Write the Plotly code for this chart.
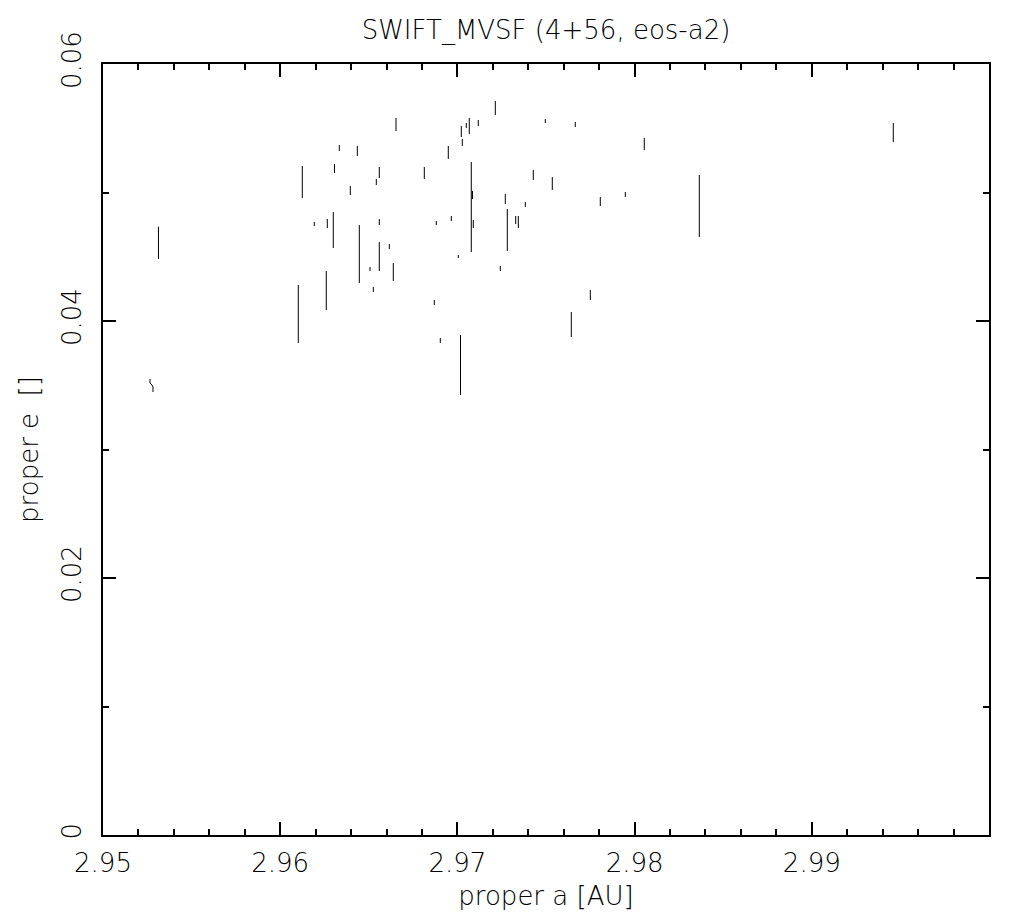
import plotly.graph_objects as go

# Proper semi-major axis (AU) of each object and the range of its proper eccentricity
a_vals = [2.95313, 2.961021, 2.961247, 2.961924, 2.962601, 2.962658, 2.962996, 2.963064,
          2.963335, 2.963956, 2.964351, 2.964464, 2.965068, 2.965254, 2.965423, 2.965592,
          2.965592, 2.965592, 2.966157, 2.966382, 2.966535, 2.968132, 2.968696, 2.968809,
          2.969035, 2.969486, 2.969656, 2.970051, 2.970175, 2.970220, 2.970276, 2.970502,
          2.970671, 2.970784, 2.970852, 2.970897, 2.971179, 2.972139, 2.972421, 2.972703,
          2.972816, 2.973290, 2.973437, 2.973832, 2.974283, 2.974960, 2.975355, 2.976428,
          2.976653, 2.977500, 2.978064, 2.979475, 2.980547, 2.983651, 2.994599]
e_top = [0.04734, 0.042802, 0.052062, 0.047704, 0.043891, 0.047938, 0.048483, 0.052218,
         0.053697, 0.050506, 0.053619, 0.047471, 0.044202, 0.042646, 0.051051, 0.051984,
         0.047938, 0.046148, 0.045992, 0.044514, 0.055798, 0.051984, 0.041634, 0.047782,
         0.038677, 0.053619, 0.048171, 0.045136, 0.038911, 0.055175, 0.054163, 0.055409,
         0.055798, 0.052374, 0.050117, 0.047860, 0.055642, 0.057121, 0.044280, 0.049883,
         0.048716, 0.048171, 0.048171, 0.049261, 0.051751, 0.055720, 0.051206, 0.040700,
         0.055486, 0.042412, 0.049650, 0.050039, 0.054241, 0.051362, 0.055409]
e_bot = [0.04483, 0.038288, 0.049572, 0.047393, 0.040856, 0.047237, 0.045681, 0.051517,
         0.053230, 0.049805, 0.052840, 0.042957, 0.043891, 0.042257, 0.050584, 0.051128,
         0.047471, 0.043891, 0.045603, 0.043113, 0.054786, 0.051051, 0.041245, 0.047471,
         0.038288, 0.052607, 0.047782, 0.044903, 0.034241, 0.054319, 0.053619, 0.055019,
         0.054553, 0.045370, 0.049494, 0.047237, 0.055175, 0.056031, 0.043891, 0.049105,
         0.045447, 0.047549, 0.047237, 0.048872, 0.050973, 0.055409, 0.050195, 0.038755,
         0.055097, 0.041634, 0.048949, 0.049650, 0.053307, 0.046537, 0.053930]

# One object drifting slightly in a (small curved track)
curve_a = [2.952652, 2.952652, 2.952765, 2.952822, 2.952822]
curve_e = [0.035486, 0.035175, 0.035019, 0.034864, 0.034475]

x_tick_vals = [2.95, 2.96, 2.97, 2.98, 2.99]
x_tick_text = ["2.95", "2.96", "2.97", "2.98", "2.99"]
y_tick_vals = [0, 0.02, 0.04, 0.06]
y_tick_text = ["0", "0.02", "0.04", "0.06"]

xs, ys = [], []
for a, t, b in zip(a_vals, e_top, e_bot):
    xs += [a, a, None]
    ys += [t, b, None]
xs += curve_a
ys += curve_e

FONT = dict(family="DejaVu Sans, Liberation Sans, sans-serif", size=26, color="black", weight=200)

fig = go.Figure()
fig.add_trace(go.Scatter(x=xs, y=ys, mode="lines", line=dict(color="black", width=1),
                         hoverinfo="skip", showlegend=False))

axis_common = dict(showline=True, linecolor="black", linewidth=2, mirror="allticks",
                   ticks="inside", ticklen=13, tickwidth=1.5, tickcolor="black",
                   showgrid=False, zeroline=False, tickfont=FONT)

W, H = 1013, 911  # page body adds an 8px offset
fig.update_layout(
    width=W, height=H,
    margin=dict(l=95, r=32, t=56, b=84, autoexpand=False),
    paper_bgcolor="white", plot_bgcolor="white",
    font=FONT,
    title=dict(text="SWIFT_MVSF (4+56, eos-a2)", x=(546 - 8) / W, xanchor="center",
               y=1 - 22 / H, yanchor="middle", font=FONT),
    xaxis=dict(range=[2.95, 3.0], tickvals=x_tick_vals, ticktext=x_tick_text,
               ticklabelstandoff=4,
               minor=dict(dtick=0.002, tick0=2.95, ticks="inside", ticklen=6,
                          tickwidth=1.5, tickcolor="black", showgrid=False),
               title=dict(text="proper a [AU]", font=FONT, standoff=10),
               **axis_common),
    yaxis=dict(range=[0, 0.06], tickvals=y_tick_vals, ticktext=y_tick_text, tickangle=-90,
               ticklabelstandoff=10,
               minor=dict(dtick=0.01, tick0=0, ticks="inside", ticklen=6,
                          tickwidth=1.5, tickcolor="black", showgrid=False),
               title=dict(text="proper e  []", font=FONT, standoff=10),
               **axis_common),
)

fig.write_html("out.html")
